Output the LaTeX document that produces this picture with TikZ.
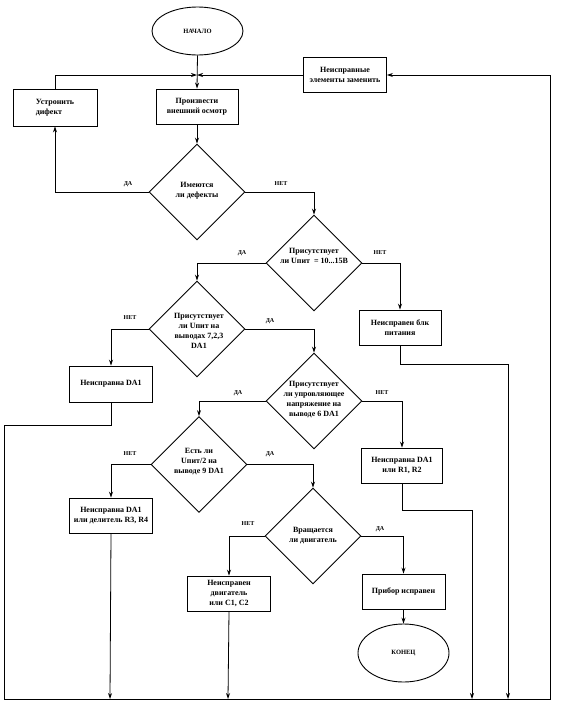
\documentclass[tikz,border=0pt]{standalone}
\usepackage{fontspec}
\setmainfont{Liberation Serif}
\usetikzlibrary{shapes.geometric,arrows.meta}
\begin{document}
\begin{tikzpicture}[x=1pt,y=-1pt,
  conn/.style={line width=0.8pt},
  arr/.style={conn,-{Stealth[length=6pt,width=4pt]}},
  box/.style={draw,line width=0.9pt,rectangle,minimum width=83pt,minimum height=35pt,align=center,inner sep=1pt,font=\fontsize{8}{10}\selectfont\bfseries},
  dia/.style={draw,diamond,line width=0.9pt,minimum width=96pt,minimum height=96pt,inner sep=0pt},
  txt/.style={align=center,inner sep=0pt,font=\fontsize{8}{10}\selectfont\bfseries},
  lab/.style={inner sep=0pt,font=\fontsize{6}{7}\selectfont\bfseries},
  ell/.style={draw,ellipse,line width=0.9pt,minimum width=91pt,minimum height=48pt,inner sep=0pt,font=\fontsize{6.5}{8}\selectfont\bfseries}]
\useasboundingbox (0,0) rectangle (560,702);
% terminals
\node[ell] (start) at (197.5,31) {НАЧАЛО};
\node[ell,minimum height=58pt] (end) at (403.5,653) {КОНЕЦ};
% boxes
\node[box,minimum width=84pt,minimum height=37pt,align=left] (ust) at (55,107.5) {Устронить\\дифект};
\node[box,minimum width=82pt] (prz) at (197,106.5) {Произвести\\внешний осмотр};
\node[box] (zam) at (345,75) {Неисправные\\элементы заменить};
\node[box,minimum width=82pt] (bp) at (400,327.5) {Неисправен блк\\питания};
\node[box,minimum height=36pt] (da1) at (111,384) {Неисправна DA1};
\node[box,minimum width=81pt] (r12) at (402,465.5) {Неисправна DA1\\или R1, R2};
\node[box] (r34) at (111,515.5) {Неисправна DA1\\или делитель R3, R4};
\node[box] (dv) at (229,593.5) {Неисправен\\двигатель\\или C1, C2};
\node[box] (ok) at (403.5,591.5) {Прибор исправен};
% decisions
\node[dia] (d1) at (197,192) {};
\node[txt] at (197,190.5) {Имеются\\ли дефекты};
\node[dia] (d2) at (314,263) {};
\node[txt] at (314,256) {Присутствует\\ли Uпит\ \ = 10...15В};
\node[dia] (d3) at (197,329) {};
\node[txt] at (199,331) {Присутствует\\ли Uпит на\\выводах 7,2,3\\DA1};
\node[dia] (d4) at (314,401) {};
\node[txt] at (314,400) {Присутствует\\ли упровляющее\\напряжение на\\выводе 6 DA1};
\node[dia] (d5) at (199,464.5) {};
\node[txt] at (199,461.5) {Есть ли\\Uпит/2 на\\выводе 9 DA1};
\node[dia] (d6) at (313,536) {};
\node[txt] at (313,535.5) {Вращается\\ли двигатель};
% labels
\node[lab] at (128,184) {ДА};
\node[lab] at (281,184) {НЕТ};
\node[lab] at (242,253) {ДА};
\node[lab] at (380,253) {НЕТ};
\node[lab] at (130,318) {НЕТ};
\node[lab] at (270,321) {ДА};
\node[lab] at (238,393) {ДА};
\node[lab] at (382,393) {НЕТ};
\node[lab] at (130,454) {НЕТ};
\node[lab] at (270,454) {ДА};
\node[lab] at (248,524) {НЕТ};
\node[lab] at (380,529) {ДА};
% coordinates
\coordinate (J) at (197,75);
\coordinate (c1) at (4,699);
\coordinate (c2) at (550,699);
\coordinate (b1) at (110,699);
\coordinate (b2) at (228,699);
\coordinate (b3) at (472,699);
\coordinate (b4) at (508,699);
% connectors
\draw[arr] (start.south) -- (prz.north);
\draw[arr] (ust.north) |- (J);
\draw[arr] (zam.west) -- (J);
\draw[arr] (prz.south) -- (d1.north);
\draw[arr] (d1.west) -| (ust.south);
\draw[arr] (d1.east) -| (d2.north);
\draw[arr] (d2.west) -| (d3.north);
\draw[arr] (d2.east) -| (bp.north);
\draw[arr] (d3.west) -| (da1.north);
\draw[arr] (d3.east) -| (d4.north);
\draw[arr] (d4.west) -| (d5.north);
\draw[arr] (d4.east) -| (r12.north);
\draw[arr] (d5.west) -| (r34.north);
\draw[arr] (d5.east) -| (d6.north);
\draw[arr] (d6.west) -| (dv.north);
\draw[arr] (d6.east) -| (ok.north);
\draw[arr] (ok.south) -- (end.north);
\draw[arr] (r34.south) -- (b1);
\draw[arr] (dv.south) -- (b2);
\draw[arr] (r12.south) -- ++(0,27) -| (b3);
\draw[arr] (bp.south) -- ++(0,19) -| (b4);
\draw[arr] (da1.south) -- ++(0,23) -| (c1) -- (c2) |- (zam.east);
\end{tikzpicture}
\end{document}
